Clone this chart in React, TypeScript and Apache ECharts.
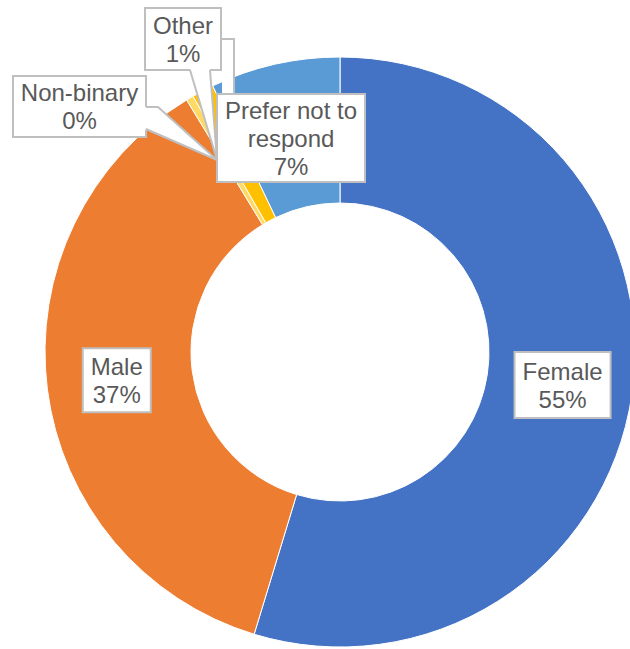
import React, { useEffect, useRef } from 'react';
import * as echarts from 'echarts';

const categories = ['Female', 'Male', 'Non-binary', 'Other', 'Prefer not to respond'];
const values = [54.7, 36.6, 0.4, 1.2, 7.1];
const colors = ['#4472C4', '#ED7D31', '#FFD966', '#FFC000', '#5B9BD5'];
const labelNames = ['Female', 'Male', 'Non-binary', 'Other', 'Prefer not to\nrespond'];

const FONT_FAMILY = '"Liberation Sans", Arial, sans-serif';
const FONT_SIZE = 24;
const LINE_H = 28;
const TEXT = '#595959';
const BORDER = '#BFBFBF';

export default function App() {
  const ref = useRef<HTMLDivElement>(null);
  useEffect(() => {
    const chart = echarts.init(ref.current!, null, { renderer: 'svg' });
    const total = values.reduce((a, b) => a + b, 0);
    const labelText = (i: number) => `${labelNames[i]}\n${Math.round((values[i] / total) * 100)}%`;
    const insidePad = [[4, 7], [3, 7]];

    const data = categories.map((name, i) => ({
      value: values[i],
      name,
      itemStyle: { color: colors[i] },
      label: i < 2 ? { show: true, position: 'inside', padding: insidePad[i] } : { show: false },
    }));

    // callout boxes (label layout) for the small slices
    const callouts = [
      {
        i: 2,
        box: [12, 75, 135, 63],
        fillPts: [[144, 107], [158, 107], [217, 160], [144, 129]],
        linePts: [[146, 107], [158, 107], [217, 160], [146, 129]],
      },
      {
        i: 3,
        box: [144, 7, 78, 64],
        fillPts: [[190, 68], [217, 160], [210, 68]],
        linePts: [[190, 70], [217, 160], [210, 70]],
      },
      {
        i: 4,
        box: [216, 93, 150, 90],
        fillPts: [[222, 39], [234, 39], [234, 93], [222, 93]],
        linePts: [[222, 39], [234, 39], [234, 93]],
        pointerFirst: true,
      },
    ];

    const elements: any[] = [];
    let z = 100;
    callouts.forEach((c) => {
      const [bx, by, bw, bh] = c.box;
      const rect = {
        type: 'rect',
        shape: { x: bx + 1, y: by + 1, width: bw - 2, height: bh - 2 },
        style: { fill: '#fff', stroke: BORDER, lineWidth: 2 },
      };
      const poly = { type: 'polygon', shape: { points: c.fillPts }, style: { fill: '#fff' } };
      const line = {
        type: 'polyline',
        shape: { points: c.linePts },
        style: { stroke: BORDER, lineWidth: 2, fill: null },
      };
      const text = {
        type: 'text',
        x: bx + bw / 2,
        y: by + bh / 2,
        style: {
          text: labelText(c.i),
          fill: TEXT,
          font: `${FONT_SIZE}px ${FONT_FAMILY}`,
          align: 'center',
          verticalAlign: 'middle',
          textAlign: 'center',
          textVerticalAlign: 'middle',
          lineHeight: LINE_H,
        },
      };
      const seq = c.pointerFirst ? [poly, line, rect, text] : [rect, poly, line, text];
      seq.forEach((e) => elements.push({ ...e, z: z++, silent: true }));
    });

    chart.setOption({
      animation: false,
      series: [
        {
          type: 'pie',
          center: [340, 352],
          radius: [149, 295],
          startAngle: 90,
          clockwise: true,
          avoidLabelOverlap: false,
          silent: true,
          itemStyle: { borderColor: '#fff', borderWidth: 1 },
          label: {
            show: false,
            color: TEXT,
            fontSize: FONT_SIZE,
            fontFamily: FONT_FAMILY,
            lineHeight: LINE_H,
            backgroundColor: '#fff',
            borderColor: BORDER,
            borderWidth: 2,
            borderRadius: 0,
            formatter: (p: any) => `${labelNames[p.dataIndex]}\n${Math.round(p.percent)}%`,
          },
          labelLine: { show: false },
          emphasis: { disabled: true },
          data,
        },
      ],
      graphic: { elements },
    });
    return () => chart.dispose();
  }, []);
  return (
    <div
      ref={ref}
      style={{ position: 'absolute', left: 0, top: 0, width: 630, height: 649, background: '#fff' }}
    />
  );
}
